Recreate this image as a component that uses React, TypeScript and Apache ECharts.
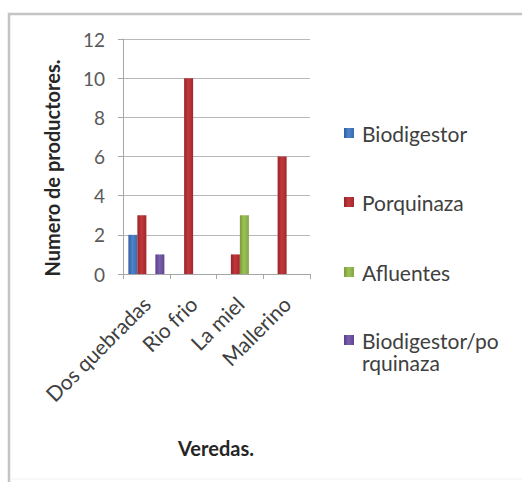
import React, { useEffect, useRef } from "react";
import * as echarts from "echarts";

const categories = ["Dos quebradas", "Rio frio", "La miel", "Mallerino"];
const seriesNames = ["Biodigestor", "Porquinaza", "Afluentes", "Biodigestor/porquinaza"];
const biodigestor = [2, null, null, null];
const porquinaza = [3, 10, 1, 6];
const afluentes = [null, null, 3, null];
const biodigestorPorquinaza = [1, null, null, null];
const seriesData = [biodigestor, porquinaza, afluentes, biodigestorPorquinaza];
const yMin = 0;
const yMax = 12;
const yInterval = 2;
const yTitle = "Numero de productores.";
const xTitle = "Veredas.";

const FONT = "Lato, 'Open Sans', sans-serif";

const palettes = [
  ["#2f5f9e", "#4d84cc", "#3a6bab"],
  ["#9a2226", "#c0393c", "#a4272b"],
  ["#7c9a3a", "#9cc25a", "#83a443"],
  ["#5a3f8a", "#7a5fb0", "#60458f"],
];

function grad(p: string[]) {
  return new echarts.graphic.LinearGradient(0, 0, 1, 0, [
    { offset: 0, color: p[0] },
    { offset: 0.45, color: p[1] },
    { offset: 1, color: p[2] },
  ]);
}

const legendCenters = [133, 202, 272, 340];

export default function App() {
  const ref = useRef<HTMLDivElement>(null);
  useEffect(() => {
    if (!ref.current) return;
    const chart = echarts.init(ref.current, undefined, { renderer: "svg" });
    const legends = seriesNames.map((name, i) => {
      const last = i === seriesNames.length - 1;
      return {
        data: [name],
        orient: "vertical",
        left: 344,
        top: last ? legendCenters[i] - 33 : legendCenters[i] - 11,
        padding: 0,
        icon: "rect",
        itemWidth: 10,
        itemHeight: 10,
        selectedMode: false,
        formatter: last ? () => "\nBiodigestor/po\nrquinaza" : undefined,
        textStyle: {
          fontFamily: FONT,
          fontSize: 21,
          lineHeight: 22,
          color: "#404040",
          padding: [0, 0, 0, 3],
          backgroundColor: "rgba(0,0,0,0)",
        },
      };
    });
    chart.setOption({
      animation: false,
      backgroundColor: "#ffffff",
      grid: { left: 123, right: 212, top: 39, bottom: 208, containLabel: false },
      legend: legends,
      xAxis: {
        type: "category",
        data: categories,
        axisLine: { show: true, lineStyle: { color: "#a6a6a6", width: 1 } },
        axisTick: { show: true, length: 5, lineStyle: { color: "#a6a6a6" } },
        axisLabel: {
          rotate: 45,
          interval: 0,
          margin: 26,
          fontFamily: FONT,
          fontSize: 21,
          color: "#404040",
        },
      },
      yAxis: {
        type: "value",
        min: yMin,
        max: yMax,
        interval: yInterval,
        axisLine: { show: true, lineStyle: { color: "#a6a6a6", width: 1 } },
        axisTick: { show: true, length: 5, lineStyle: { color: "#a6a6a6" } },
        splitLine: { show: true, lineStyle: { color: "#b8b8b8", width: 1 } },
        axisLabel: {
          margin: 18,
          fontFamily: FONT,
          fontSize: 19,
          color: "#595959",
        },
      },
      series: seriesNames.map((name, i) => ({
        name,
        type: "bar",
        data: seriesData[i],
        barWidth: 9,
        barGap: "0%",
        itemStyle: { color: grad(palettes[i]) },
      })),
      graphic: [
        {
          type: "rect",
          silent: true,
          z: -10,
          shape: { x: 9, y: 14, width: 530, height: 500 },
          style: { fill: "none", stroke: "#c4c4c4", lineWidth: 2.5 },
        },
        {
          type: "line",
          silent: true,
          z: -10,
          shape: { x1: 10, y1: 479, x2: 522, y2: 479 },
          style: { stroke: "#f0f0f0", lineWidth: 1 },
        },
        {
          type: "text",
          x: 52,
          y: 168,
          rotation: Math.PI / 2,
          style: {
            text: yTitle,
            fontFamily: FONT,
            fontWeight: "bold",
            fontSize: 20,
            fill: "#262626",
            align: "center",
            verticalAlign: "middle",
          },
        },
        {
          type: "text",
          x: 216,
          y: 448,
          style: {
            text: xTitle,
            fontFamily: FONT,
            fontWeight: "bold",
            fontSize: 20,
            fill: "#262626",
            align: "center",
            verticalAlign: "middle",
          },
        },
      ],
    });
    return () => chart.dispose();
  }, []);
  return (
    <div
      ref={ref}
      style={{ position: "fixed", left: 0, top: 0, width: 522, height: 482 }}
    />
  );
}
